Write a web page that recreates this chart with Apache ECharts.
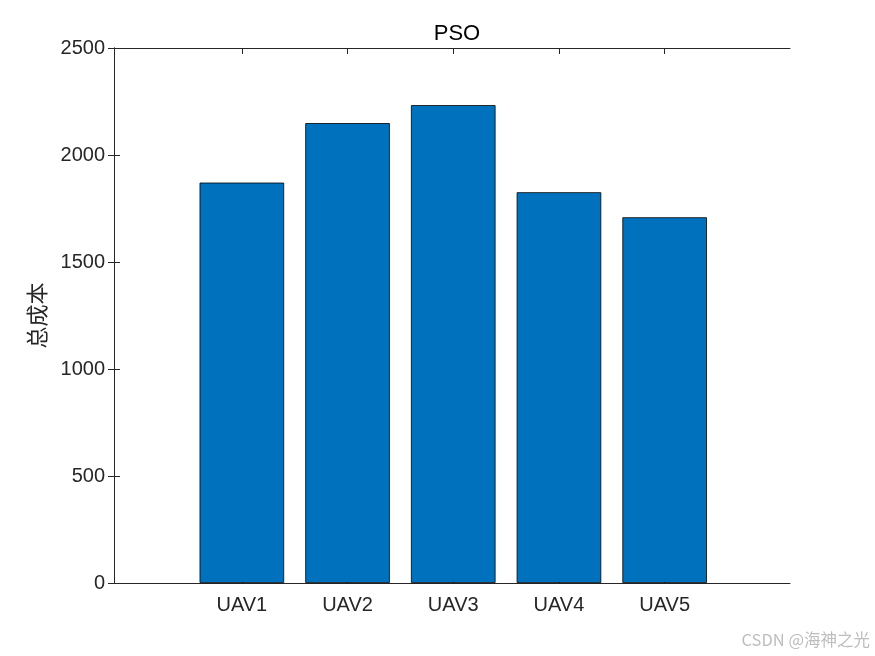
<!DOCTYPE html>
<html>
<head>
<meta charset="utf-8">
<script src="https://cdn.jsdelivr.net/npm/echarts@6/dist/echarts.min.js"></script>
<style>html,body{margin:0;padding:0;background:#fff;}#c{width:875px;height:656px;}</style>
</head>
<body>
<div id="c"></div>
<script>
const categories = ['UAV1', 'UAV2', 'UAV3', 'UAV4', 'UAV5'];
const totalCost = [1871, 2149, 2233, 1826, 1709];
const yTicks = [0, 500, 1000, 1500, 2000, 2500];
const titleText = 'PSO';
const yName = '总成本';
const watermark = 'CSDN @海神之光';

const chart = echarts.init(document.getElementById('c'), null, {renderer: 'canvas'});
const font = 'Liberation Sans, Arial, Helvetica, sans-serif';
const txt = '#262626';
const lineStyle = {color: '#262626', width: 1};
chart.setOption({
  animation: false,
  backgroundColor: '#fff',
  title: {
    text: titleText, left: 452, top: 18, textAlign: 'center',
    textStyle: {fontFamily: font, fontSize: 22, fontWeight: 'normal', color: '#000'}
  },
  graphic: [{
    type: 'text', right: 5, top: 631,
    style: {text: watermark, fill: '#bdbdbd', font: '16.5px "Noto Sans CJK SC", sans-serif'}
  }],
  grid: [
    {left: 114, right: 85, top: 48, bottom: 73, containLabel: false},
    {left: 189, right: 157.5, top: 48, bottom: 73, containLabel: false}
  ],
  xAxis: [
    {gridIndex: 0, type: 'value', position: 'bottom', min: 0, max: 1,
     axisLine: {show: true, onZero: false, lineStyle: lineStyle}, axisTick: {show: false},
     axisLabel: {show: false}, splitLine: {show: false}},
    {gridIndex: 0, type: 'value', position: 'top', min: 0, max: 1,
     axisLine: {show: true, onZero: false, lineStyle: lineStyle}, axisTick: {show: false},
     axisLabel: {show: false}, splitLine: {show: false}},
    {gridIndex: 1, type: 'category', data: categories, position: 'bottom',
     axisLine: {show: false}, axisTick: {show: true, inside: true, alignWithLabel: true, length: 6, lineStyle: lineStyle},
     axisLabel: {fontFamily: font, fontSize: 20, color: txt, margin: 12}, splitLine: {show: false}},
    {gridIndex: 1, type: 'category', data: categories, position: 'top',
     axisLine: {show: false}, axisTick: {show: true, inside: true, alignWithLabel: true, length: 6, lineStyle: lineStyle},
     axisLabel: {show: false}, splitLine: {show: false}}
  ],
  yAxis: [
    {gridIndex: 0, type: 'value', min: yTicks[0], max: yTicks[yTicks.length - 1], interval: yTicks[1] - yTicks[0], position: 'left',
     name: yName, nameLocation: 'middle', nameGap: 66, nameRotate: 90,
     nameTextStyle: {fontFamily: '"Noto Sans CJK SC", sans-serif', fontSize: 22, color: txt},
     axisLine: {show: true, lineStyle: lineStyle}, axisTick: {show: true, inside: true, length: 6, lineStyle: lineStyle},
     axisLabel: {fontFamily: font, fontSize: 20, color: txt, margin: 9, formatter: v => String(v)}, splitLine: {show: false}},
    {gridIndex: 0, type: 'value', min: yTicks[0], max: yTicks[yTicks.length - 1], interval: yTicks[1] - yTicks[0], position: 'right',
     axisLine: {show: true, lineStyle: lineStyle}, axisTick: {show: true, inside: true, length: 6, lineStyle: lineStyle},
     axisLabel: {show: false}, splitLine: {show: false}},
    {gridIndex: 1, type: 'value', min: yTicks[0], max: yTicks[yTicks.length - 1], show: false, splitLine: {show: false}}
  ],
  series: [{
    type: 'bar', xAxisIndex: 2, yAxisIndex: 2, data: totalCost, barWidth: '80%',
    itemStyle: {color: '#0072BD', borderColor: '#000', borderWidth: 0.8}
  }]
});
</script>
</body>
</html>
